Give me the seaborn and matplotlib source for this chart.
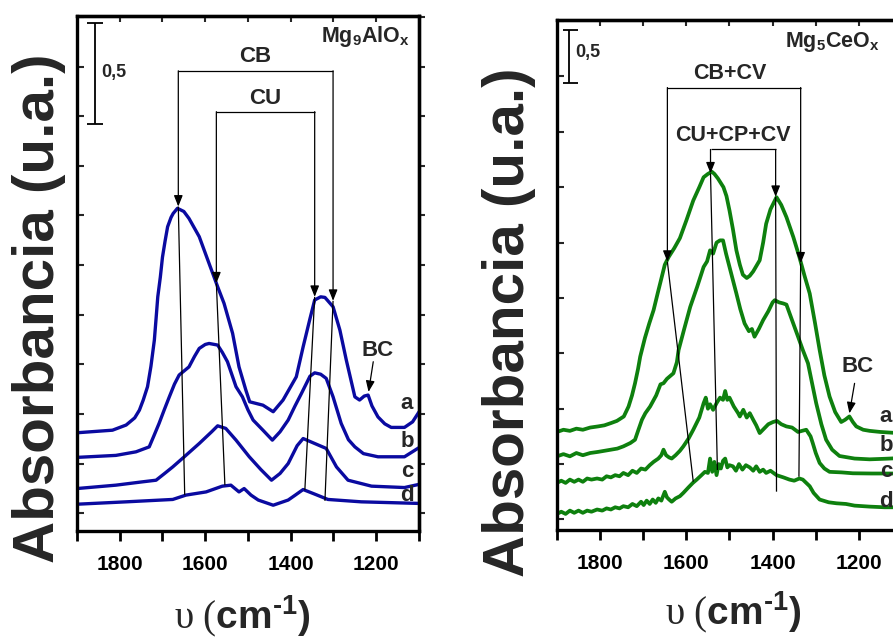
import numpy as np
import pandas as pd
import seaborn as sns
import matplotlib
matplotlib.use("Agg")
import matplotlib.pyplot as plt
from matplotlib.ticker import MultipleLocator, NullFormatter

# ---------------- data: Mg9AlOx (left panel) ----------------
wn_al_a = [1900, 1817, 1785, 1765, 1754, 1745, 1735, 1727, 1719, 1715, 1711, 1705, 1700, 1694, 1688, 1680, 1675,
           1665, 1650, 1638, 1614, 1591, 1571, 1556, 1536, 1521, 1505, 1496, 1465, 1441, 1418, 1387, 1371, 1355,
           1344, 1330, 1320, 1301, 1285, 1270, 1250, 1239, 1228, 1219, 1210, 1196, 1180, 1165, 1134, 1115, 1100]
ab_al_a = [0.405, 0.418, 0.444, 0.48, 0.519, 0.57, 0.637, 0.74, 0.872, 0.98, 1.09, 1.19, 1.29, 1.37, 1.443, 1.49, 1.51,
           1.536, 1.52, 1.485, 1.393, 1.258, 1.141, 1.057, 0.906, 0.737, 0.62, 0.561, 0.544, 0.511, 0.570, 0.687, 0.838, 0.98,
           1.074, 1.09, 1.087, 1.04, 0.922, 0.771, 0.586, 0.570, 0.59, 0.595, 0.54, 0.485, 0.45, 0.432, 0.432, 0.46, 0.51]
wn_al_b = [1900, 1809, 1762, 1731, 1720, 1708, 1696, 1684, 1672, 1661, 1638, 1625, 1614, 1600, 1591, 1571, 1560,
           1548, 1528, 1513, 1500, 1488, 1465, 1443, 1425, 1406, 1390, 1375, 1355, 1344, 1330, 1317, 1301, 1282,
           1265, 1250, 1230, 1196, 1134, 1100]
ab_al_b = [0.281, 0.291, 0.309, 0.334, 0.39, 0.452, 0.52, 0.586, 0.65, 0.696, 0.737, 0.79, 0.830, 0.85, 0.855, 0.847, 0.81,
           0.763, 0.637, 0.586, 0.52, 0.469, 0.418, 0.368, 0.41, 0.469, 0.54, 0.603, 0.69, 0.707, 0.70, 0.679, 0.586, 0.452,
           0.37, 0.334, 0.30, 0.284, 0.284, 0.33]
wn_al_c = [1900, 1809, 1746, 1715, 1695, 1676, 1649, 1614, 1585, 1571, 1552, 1528, 1497, 1470, 1445, 1425, 1406,
           1385, 1371, 1344, 1317, 1293, 1266, 1211, 1134, 1100]
ab_al_c = [0.124, 0.141, 0.158, 0.166, 0.20, 0.233, 0.284, 0.351, 0.41, 0.440, 0.427, 0.368, 0.284, 0.22, 0.166, 0.20, 0.250,
           0.34, 0.376, 0.351, 0.326, 0.233, 0.166, 0.136, 0.129, 0.145]
wn_al_d = [1900, 1785, 1676, 1645, 1598, 1560, 1540, 1521, 1509, 1493, 1476, 1441, 1406, 1390, 1371, 1344,
           1313, 1235, 1100]
ab_al_d = [0.045, 0.057, 0.069, 0.091, 0.107, 0.136, 0.141, 0.107, 0.124, 0.091, 0.066, 0.040, 0.066, 0.09, 0.119, 0.096,
           0.069, 0.057, 0.049]

# ---------------- data: Mg5CeOx (right panel) ----------------
wn_ce_a = [1900, 1885, 1870, 1855, 1840, 1823, 1805, 1790, 1775, 1761, 1745, 1734, 1726, 1719, 1712, 1707, 1696,
           1686, 1676, 1666, 1657, 1650, 1641, 1628, 1615, 1600, 1584, 1570, 1560, 1550, 1541, 1535, 1527, 1514,
           1507, 1500, 1492, 1484, 1476, 1469, 1460, 1453, 1445, 1430, 1422, 1415, 1405, 1391, 1380, 1368, 1352,
           1338, 1326, 1314, 1302, 1291, 1280, 1268, 1255, 1241, 1232, 1222, 1214, 1206, 1190, 1175, 1150, 1122, 1100]
ab_ce_a = [0.79, 0.81, 0.80, 0.82, 0.81, 0.83, 0.84, 0.85, 0.87, 0.89, 0.93, 1.02, 1.12, 1.23, 1.36, 1.47, 1.64,
           1.77, 1.89, 2.05, 2.19, 2.30, 2.37, 2.45, 2.54, 2.70, 2.88, 3.00, 3.09, 3.12, 3.14, 3.12, 3.08, 3.00,
           2.92, 2.79, 2.62, 2.43, 2.30, 2.21, 2.18, 2.20, 2.24, 2.34, 2.50, 2.67, 2.80, 2.91, 2.84, 2.73, 2.55,
           2.37, 2.20, 2.04, 1.78, 1.53, 1.30, 1.11, 0.97, 0.88, 0.90, 0.93, 0.88, 0.84, 0.81, 0.80, 0.79, 0.783, 0.78]
wn_ce_b = [1900, 1885, 1870, 1855, 1840, 1823, 1805, 1790, 1775, 1760, 1746, 1730, 1719, 1712, 1703, 1695, 1684,
           1670, 1660, 1653, 1645, 1630, 1622, 1618, 1605, 1591, 1575, 1560, 1552, 1545, 1538, 1530, 1522, 1515,
           1508, 1500, 1492, 1484, 1475, 1465, 1455, 1448, 1442, 1432, 1422, 1410, 1400, 1395, 1385, 1375, 1368,
           1355, 1341, 1330, 1318, 1308, 1299, 1287, 1276, 1262, 1245, 1210, 1175, 1140, 1100]
ab_ce_b = [0.57, 0.59, 0.57, 0.60, 0.58, 0.60, 0.61, 0.62, 0.63, 0.64, 0.66, 0.69, 0.72, 0.80, 0.90, 0.96, 1.02,
           1.12, 1.22, 1.23, 1.27, 1.32, 1.42, 1.53, 1.72, 1.92, 2.10, 2.28, 2.33, 2.43, 2.40, 2.50, 2.52, 2.52,
           2.40, 2.28, 2.16, 2.04, 1.90, 1.77, 1.70, 1.72, 1.65, 1.72, 1.80, 1.88, 1.96, 1.98, 1.96, 1.95, 1.94,
           1.80, 1.65, 1.53, 1.41, 1.22, 1.05, 0.86, 0.72, 0.63, 0.573, 0.55, 0.543, 0.548, 0.555]
wn_ce_c = [1900, 1890, 1880, 1870, 1860, 1850, 1840, 1830, 1820, 1807, 1795, 1785, 1775, 1765, 1755, 1746, 1735,
           1725, 1715, 1705, 1695, 1685, 1676, 1665, 1658, 1653, 1647, 1640, 1634, 1625, 1615, 1607, 1595, 1584,
           1570, 1560, 1555, 1550, 1545, 1538, 1530, 1522, 1515, 1510, 1505, 1500, 1490, 1480, 1476, 1468, 1460,
           1453, 1445, 1438, 1430, 1420, 1410, 1399, 1390, 1380, 1368, 1355, 1341, 1332, 1322, 1312, 1307, 1300,
           1291, 1280, 1268, 1240, 1214, 1170, 1100]
ab_ce_c = [0.33, 0.35, 0.33, 0.36, 0.34, 0.36, 0.34, 0.37, 0.36, 0.37, 0.36, 0.39, 0.38, 0.40, 0.39, 0.42, 0.40,
           0.44, 0.42, 0.46, 0.45, 0.49, 0.52, 0.55, 0.58, 0.63, 0.58, 0.56, 0.55, 0.58, 0.62, 0.66, 0.73, 0.81,
           0.92, 1.05, 1.10, 1.00, 1.04, 0.99, 1.05, 1.10, 1.08, 1.16, 1.08, 1.10, 1.02, 0.96, 0.93, 0.99, 0.92,
           0.96, 0.90, 0.85, 0.78, 0.82, 0.86, 0.88, 0.89, 0.86, 0.84, 0.83, 0.79, 0.80, 0.81, 0.75, 0.69, 0.60,
           0.51, 0.46, 0.43, 0.425, 0.417, 0.415, 0.415]
wn_ce_d = [1900, 1890, 1880, 1870, 1860, 1850, 1840, 1830, 1820, 1807, 1795, 1785, 1775, 1765, 1755, 1746, 1735,
           1725, 1715, 1705, 1699, 1692, 1685, 1678, 1671, 1665, 1658, 1650, 1645, 1640, 1634, 1625, 1615, 1607,
           1595, 1585, 1576, 1565, 1557, 1550, 1545, 1540, 1535, 1530, 1525, 1520, 1515, 1510, 1505, 1500, 1492,
           1485, 1478, 1470, 1462, 1453, 1445, 1438, 1430, 1422, 1415, 1405, 1391, 1375, 1361, 1350, 1338, 1330,
           1314, 1305, 1291, 1270, 1252, 1230, 1210, 1175, 1140, 1100]
ab_ce_d = [0.05, 0.07, 0.05, 0.08, 0.06, 0.08, 0.06, 0.08, 0.07, 0.09, 0.08, 0.10, 0.09, 0.11, 0.10, 0.12, 0.11,
           0.14, 0.12, 0.16, 0.13, 0.17, 0.14, 0.18, 0.15, 0.19, 0.17, 0.25, 0.20, 0.18, 0.16, 0.19, 0.21, 0.24,
           0.29, 0.33, 0.36, 0.40, 0.43, 0.42, 0.55, 0.43, 0.52, 0.40, 0.50, 0.46, 0.53, 0.55, 0.47, 0.49, 0.48,
           0.44, 0.50, 0.45, 0.49, 0.47, 0.44, 0.48, 0.43, 0.45, 0.42, 0.44, 0.40, 0.38, 0.36, 0.35, 0.37, 0.36,
           0.30, 0.24, 0.18, 0.155, 0.146, 0.14, 0.125, 0.116, 0.11, 0.11]

curve_labels = ["a", "b", "c", "d"]
x_ticks = [1800, 1600, 1400, 1200]
titles = [r"$\mathbf{Mg_{9}AlO_{x}}$", r"$\mathbf{Mg_{5}CeO_{x}}$"]

# ---------------- style ----------------
sns.set_theme(style="ticks")
plt.rcParams["font.family"] = ["Liberation Sans", "DejaVu Sans"]
plt.rcParams["mathtext.fontset"] = "custom"
plt.rcParams["mathtext.rm"] = "Liberation Serif:normal"
plt.rcParams["mathtext.it"] = "Liberation Serif:italic"
plt.rcParams["mathtext.bf"] = "Liberation Sans:bold"
plt.rcParams["mathtext.sf"] = "Liberation Sans"

BLUE = "#0A0AA0"
GREEN = "#0E800E"

fig = plt.figure(figsize=(8.93, 6.38), dpi=100)
axL = fig.add_axes([0.0862, 0.1677, 0.383, 0.8072])
axR = fig.add_axes([0.6237, 0.1693, 0.3864, 0.7994])

def style_axes(ax, ylim, ystep):
    ax.set_xlim(1900, 1100)
    ax.set_ylim(*ylim)
    ax.set_xticks(x_ticks)
    ax.set_xticklabels([str(t) for t in x_ticks], fontsize=15, fontweight="bold")
    ax.xaxis.set_minor_locator(MultipleLocator(100))
    ax.yaxis.set_major_locator(MultipleLocator(ystep))
    ax.yaxis.set_major_formatter(NullFormatter())
    ax.tick_params(axis="x", which="both", direction="out", length=7, width=2, pad=10, colors="black")
    ax.tick_params(axis="y", which="both", direction="in", length=5, width=1.5, left=True, right=False)
    for s in ax.spines.values():
        s.set_linewidth(2.4)
        s.set_color("black")
    top = ax.secondary_xaxis("top")
    top.set_xticks([1800, 1700, 1600, 1500, 1400, 1300, 1200])
    top.xaxis.set_major_formatter(NullFormatter())
    top.tick_params(direction="in", length=4, width=1.5)
    top.spines["top"].set_linewidth(2.4)
    right = ax.secondary_yaxis("right")
    right.yaxis.set_major_locator(MultipleLocator(ystep))
    right.yaxis.set_major_formatter(NullFormatter())
    right.tick_params(direction="out", length=4, width=1.5)
    right.spines["right"].set_linewidth(2.4)
    ax.set_xlabel("")
    ax.set_ylabel("")

def arrow(ax, x0, y0, x1, y1):
    ax.annotate("", xy=(x1, y1), xytext=(x0, y0),
                arrowprops=dict(arrowstyle="-|>,head_length=0.55,head_width=0.22", color="black",
                                lw=0.9, shrinkA=0, shrinkB=0, mutation_scale=12))

def line(ax, xs, ys, lw=0.9):
    ax.plot(xs, ys, color="black", lw=lw, solid_capstyle="butt")

# ---------------- left panel ----------------
for wn, ab in [(wn_al_a, ab_al_a), (wn_al_b, ab_al_b), (wn_al_c, ab_al_c), (wn_al_d, ab_al_d)]:
    sns.lineplot(x=wn, y=ab, ax=axL, color=BLUE, lw=2.4, estimator=None, legend=False)
style_axes(axL, (-0.09, 2.505), 0.25)

# scale bar
line(axL, [1858, 1858], [1.96, 2.47], lw=1.3)
line(axL, [1877, 1839], [1.96, 1.96], lw=1.3)
line(axL, [1877, 1839], [2.47, 2.47], lw=1.3)
axL.text(1844, 2.218, "0,5", fontsize=13, fontweight="bold", ha="left", va="center")
axL.text(1122, 2.404, titles[0], fontsize=15.5, ha="right", va="center")

# CB bracket
line(axL, [1663, 1301], [2.229, 2.229])
arrow(axL, 1663, 2.229, 1663, 1.545)
arrow(axL, 1301, 2.229, 1301, 1.07)
axL.text(1482, 2.30, "CB", fontsize=16, fontweight="bold", ha="center", va="center")
# CU bracket
line(axL, [1574, 1344], [2.023, 2.023])
arrow(axL, 1574, 2.023, 1574, 1.158)
arrow(axL, 1344, 2.023, 1344, 1.09)
axL.text(1459, 2.09, "CU", fontsize=16, fontweight="bold", ha="center", va="center")
# guide lines
line(axL, [1663, 1648], [1.545, 0.091])
line(axL, [1574, 1554], [1.158, 0.141])
line(axL, [1344, 1367], [1.09, 0.116])
line(axL, [1301, 1320], [1.07, 0.062])
# BC
axL.text(1197, 0.822, "BC", fontsize=16, fontweight="bold", ha="center", va="center")
arrow(axL, 1207, 0.763, 1218, 0.611)
for lab, yy in zip(curve_labels, [0.553, 0.36, 0.208, 0.091]):
    axL.text(1128, yy, lab, fontsize=16, fontweight="bold", ha="center", va="center")

# ---------------- right panel ----------------
for wn, ab in [(wn_ce_a, ab_ce_a), (wn_ce_b, ab_ce_b), (wn_ce_c, ab_ce_c), (wn_ce_d, ab_ce_d)]:
    sns.lineplot(x=wn, y=ab, ax=axR, color=GREEN, lw=2.7, estimator=None, legend=False)
style_axes(axR, (-0.095, 4.51), 0.5)

line(axR, [1871.5, 1871.5], [3.937, 4.418], lw=1.3)
line(axR, [1885, 1851], [3.937, 3.937], lw=1.3)
line(axR, [1885, 1851], [4.418, 4.418], lw=1.3)
axR.text(1857, 4.213, "0,5", fontsize=13, fontweight="bold", ha="left", va="center")
axR.text(1152, 4.312, titles[1], fontsize=15.5, ha="right", va="center")

# CB+CV bracket
line(axR, [1644, 1335], [3.90, 3.90])
arrow(axR, 1644, 3.90, 1644, 2.327)
arrow(axR, 1335, 3.90, 1335, 2.312)
axR.text(1499, 4.027, "CB+CV", fontsize=15.5, fontweight="bold", ha="center", va="center")
# CU+CP+CV bracket
line(axR, [1544, 1393], [3.341, 3.341])
arrow(axR, 1544, 3.341, 1544, 3.125)
arrow(axR, 1393, 3.341, 1393, 2.913)
axR.text(1492, 3.47, "CU+CP+CV", fontsize=15.5, fontweight="bold", ha="center", va="center")
line(axR, [1644, 1584], [2.327, 0.341])
line(axR, [1544, 1528], [3.125, 0.447])
line(axR, [1393, 1391], [2.913, 0.251])
line(axR, [1335, 1339], [2.312, 0.386])
axR.text(1202, 1.379, "BC", fontsize=16, fontweight="bold", ha="center", va="center")
arrow(axR, 1210, 1.229, 1222, 0.958)
for lab, yy in zip(curve_labels, [0.928, 0.672, 0.431, 0.161]):
    axR.text(1137, yy, lab, fontsize=16, fontweight="bold", ha="center", va="center")

# ---------------- axis titles ----------------
for xc, yc in [(0.0437, 0.517), (0.570, 0.495)]:
    fig.text(xc, yc, "Absorbancia (u.a.)", rotation=90, fontsize=42, fontweight="bold",
             ha="center", va="center")
xlab = r"$\mathrm{\upsilon\ (}\mathbf{cm^{‐1})}$"
fig.text(0.2716, 0.0157, xlab, fontsize=28, ha="center", va="baseline")
fig.text(0.821, 0.022, xlab, fontsize=28, ha="center", va="baseline")

fig.savefig("out.png", dpi=100)
